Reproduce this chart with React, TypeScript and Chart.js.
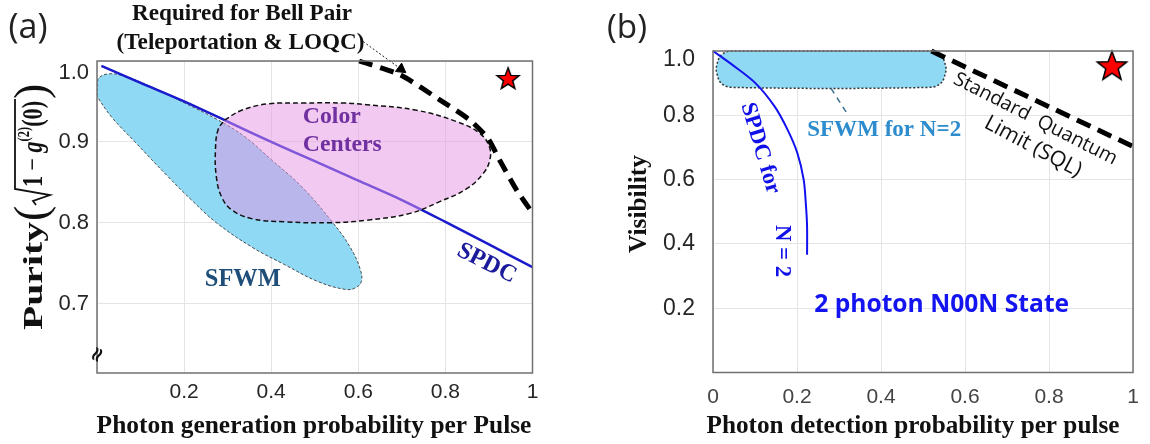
import React, { useEffect, useRef } from 'react';
import { Chart, registerables } from 'chart.js';

Chart.register(...registerables);

type Pt = [number, number];

/* ---------------- Panel (a): purity vs photon generation probability ---------------- */
const aXTicks = [0, 0.2, 0.4, 0.6, 0.8, 1];
const aYTicks = [0.7, 0.8, 0.9, 1.0];
const aYMin = 0.614;
const aYMax = 1.0;

const aSpdcCurve: Pt[] = [
  [0.01, 0.994], [0.1, 0.973], [0.2, 0.95], [0.3, 0.925], [0.4, 0.9],
  [0.5, 0.876], [0.6, 0.852], [0.7, 0.828], [0.8, 0.801], [0.9, 0.773], [1.0, 0.745],
];
const aBellPairLimit: Pt[] = [
  [0.602, 1.0], [0.696, 0.983], [0.787, 0.952], [0.856, 0.927],
  [0.898, 0.904], [0.925, 0.877], [0.964, 0.84], [1.0, 0.812],
];
const aSfwmRegion: Pt[] = [
  [0.0, 0.956], [0.002, 0.977], [0.025, 0.984], [0.064, 0.981], [0.125, 0.968],
  [0.2015, 0.948], [0.278, 0.927], [0.34, 0.906], [0.401, 0.8775], [0.47, 0.8445],
  [0.54, 0.801], [0.581, 0.77], [0.604, 0.743], [0.607, 0.727], [0.592, 0.719],
  [0.569, 0.7175], [0.508, 0.727], [0.431, 0.748], [0.355, 0.77], [0.274, 0.8],
  [0.217, 0.828], [0.163, 0.857], [0.087, 0.9], [0.033, 0.931], [0.0, 0.956],
];
const aColorCentersRegion: Pt[] = [
  [0.293, 0.927], [0.332, 0.939], [0.393, 0.947], [0.47, 0.948], [0.569, 0.948],
  [0.619, 0.946], [0.734, 0.939], [0.826, 0.925], [0.879, 0.9105], [0.901, 0.894],
  [0.902, 0.8775], [0.887, 0.861], [0.849, 0.842], [0.787, 0.826], [0.719, 0.8115],
  [0.619, 0.803], [0.539, 0.8], [0.431, 0.801], [0.355, 0.805], [0.309, 0.816],
  [0.286, 0.832], [0.274, 0.857], [0.272, 0.89], [0.278, 0.915], [0.293, 0.927],
];
const aBellArrow: Pt[] = [[0.611, 1.024], [0.698, 0.99]];
const aIdealPoint: Pt[] = [[0.944, 0.979]];

const aPanelLabel = '(a)';
const aNoteLines = ['Required for Bell Pair', '(Teleportation & LOQC)'];
const aXTitle = 'Photon generation probability per Pulse';
const aYTitleWord = 'Purity';
const aColorLabel = ['Color', 'Centers'];
const aSfwmLabel = 'SFWM';
const aSpdcLabel = 'SPDC';

/* ---------------- Panel (b): visibility vs detection probability ---------------- */
const bXTicks = [0, 0.2, 0.4, 0.6, 0.8, 1];
const bYTicks = [0.2, 0.4, 0.6, 0.8, 1.0];

const bSpdcCurve: Pt[] = [
  [0.0, 1.0], [0.047, 0.956], [0.101, 0.9], [0.147, 0.827], [0.178, 0.754],
  [0.201, 0.682], [0.216, 0.599], [0.2215, 0.516], [0.224, 0.453], [0.224, 0.366],
];
const bSqlLine: Pt[] = [[0.52, 1.0], [1.0, 0.703]];
const bSfwmRegion: Pt[] = [
  [0.28, 1.0], [0.519, 1.0], [0.5435, 0.986], [0.554, 0.953], [0.554, 0.934],
  [0.5435, 0.901], [0.519, 0.887], [0.043, 0.887], [0.0185, 0.901], [0.0085, 0.934],
  [0.0085, 0.953], [0.0185, 0.986], [0.043, 1.0], [0.28, 1.0],
];
const bSfwmLeader: Pt[] = [[0.281, 0.884], [0.322, 0.8]];
const bIdealPoint: Pt[] = [[0.95, 0.956]];

const bPanelLabel = '(b)';
const bXTitle = 'Photon detection probability per pulse';
const bYTitle = 'Visibility';
const bSfwmLabel = 'SFWM for N=2';
const bSpdcLabel = ['SPDC for', 'N = 2'];
const bNoonLabel = '2 photon N00N State';
const bSqlLabel = ['Standard  Quantum', 'Limit (SQL)'];

/* ---------------- styles ---------------- */
const SERIF = '"Liberation Serif", "Times New Roman", serif';
const SANS = '"Liberation Sans", Arial, sans-serif';
const NARROW = '"Liberation Sans Narrow", "Arial Narrow", "Liberation Sans", sans-serif';
const OPEN = '"Open Sans", sans-serif';
const GRID = '#e4e4e4';
const FRAME = '#707070';
const CYAN = 'rgb(143,217,244)';

const toXY = (pts: Pt[]) => pts.map(([x, y]) => ({ x, y }));

function makeStar(size: number): HTMLCanvasElement {
  const c = document.createElement('canvas');
  c.width = size;
  c.height = size;
  const g = c.getContext('2d')!;
  const cx = size / 2;
  const cy = size / 2 + size * 0.05;
  const R = size / 2 - 1.5;
  const r = R * 0.42;
  g.beginPath();
  for (let i = 0; i < 10; i++) {
    const ang = -Math.PI / 2 + (i * Math.PI) / 5;
    const rr = i % 2 === 0 ? R : r;
    const px = cx + rr * Math.cos(ang);
    const py = cy + rr * Math.sin(ang);
    if (i === 0) g.moveTo(px, py);
    else g.lineTo(px, py);
  }
  g.closePath();
  g.fillStyle = '#ff0000';
  g.fill();
  g.lineWidth = 1.5;
  g.strokeStyle = '#000';
  g.stroke();
  return c;
}

function fitFont(ctx: CanvasRenderingContext2D, text: string, weight: string, family: string, targetW: number) {
  ctx.font = `${weight} 20px ${family}`;
  const w = ctx.measureText(text).width;
  const size = (20 * targetW) / w;
  return `${weight} ${size.toFixed(2)}px ${family}`;
}

function drawText(
  ctx: CanvasRenderingContext2D, text: string, x: number, y: number, font: string,
  color: string, rot = 0, align: CanvasTextAlign = 'center',
) {
  ctx.save();
  ctx.translate(x, y);
  if (rot) ctx.rotate((rot * Math.PI) / 180);
  ctx.font = font;
  ctx.fillStyle = color;
  ctx.textAlign = align;
  ctx.textBaseline = 'middle';
  ctx.fillText(text, 0, 0);
  ctx.restore();
}

function drawFrame(chart: any) {
  const { left, right, top, bottom } = chart.chartArea;
  const ctx = chart.ctx as CanvasRenderingContext2D;
  ctx.save();
  ctx.strokeStyle = FRAME;
  ctx.lineWidth = 1.5;
  ctx.strokeRect(left, top, right - left, bottom - top);
  ctx.restore();
}

function drawPurityTitle(ctx: CanvasRenderingContext2D) {
  ctx.save();
  ctx.translate(42, 330);
  ctx.rotate(-Math.PI / 2);
  ctx.fillStyle = '#111';
  ctx.strokeStyle = '#111';
  ctx.textAlign = 'left';
  ctx.textBaseline = 'alphabetic';
  ctx.font = `bold 28px ${SERIF}`;
  const wP = ctx.measureText(aYTitleWord).width;
  ctx.save();
  ctx.scale(108 / wP, 1);
  ctx.fillText(aYTitleWord, 0, 0);
  ctx.restore();
  ctx.font = `46px ${SERIF}`;
  ctx.fillText('(', 109, 4);
  ctx.lineWidth = 1.8;
  ctx.beginPath();
  ctx.moveTo(125, -6);
  ctx.lineTo(129, -9);
  ctx.lineTo(135, 8);
  ctx.lineTo(141, -27);
  ctx.lineTo(231, -27);
  ctx.stroke();
  const parts = [
    { t: '1', f: `bold 30px ${SERIF}`, dy: 0 },
    { t: ' \u2212 ', f: `30px ${SERIF}`, dy: 0 },
    { t: 'g', f: `bold italic 30px ${SERIF}`, dy: 0 },
    { t: '(2)', f: `bold 17px ${SERIF}`, dy: -13 },
    { t: '(0)', f: `bold 30px ${SERIF}`, dy: 0 },
  ];
  let total = 0;
  for (const p of parts) {
    ctx.font = p.f;
    total += ctx.measureText(p.t).width;
  }
  ctx.save();
  ctx.translate(143, 0);
  ctx.scale(86 / total, 1);
  let u = 0;
  for (const p of parts) {
    ctx.font = p.f;
    ctx.fillText(p.t, u, p.dy);
    u += ctx.measureText(p.t).width;
  }
  ctx.restore();
  ctx.font = `46px ${SERIF}`;
  ctx.fillText(')', 231, 4);
  ctx.restore();
}

function xScale(ticks: number[], font: any, color: string, padding: number, height: number, fmt: (v: number) => string) {
  return {
    type: 'linear', position: 'bottom', min: 0, max: 1, bounds: 'data',
    afterBuildTicks: (s: any) => { s.ticks = ticks.map((v) => ({ value: v })); },
    afterFit: (s: any) => { s.height = height; s.paddingLeft = 0; s.paddingRight = 0; },
    grid: { color: GRID, lineWidth: 1, drawTicks: false },
    border: { display: false },
    ticks: { font, color, padding, maxRotation: 0, minRotation: 0, autoSkip: false, callback: (v: any) => fmt(Number(v)) },
  };
}

function yScale(ticks: number[], min: number, max: number, size: number, topLH: number, padding: number, width: number) {
  return {
    type: 'linear', position: 'left', min, max, bounds: 'data',
    afterBuildTicks: (s: any) => { s.ticks = ticks.map((v) => ({ value: v })); },
    afterFit: (s: any) => { s.width = width; s.paddingTop = 0; s.paddingBottom = 0; },
    grid: { color: GRID, lineWidth: 1, drawTicks: false },
    border: { display: false },
    ticks: {
      padding, color: '#262626', autoSkip: false,
      font: (c: any) => ({ family: SANS, size, lineHeight: c.tick && c.tick.value === 1 ? topLH : 1.2 }),
      callback: (v: any) => (Number(v) === 1 ? ['', '1.0'] : Number(v).toFixed(1)),
    },
  };
}

const baseOptions = {
  responsive: false,
  animation: false,
  devicePixelRatio: 1,
  events: [] as any[],
  plugins: { legend: { display: false }, tooltip: { enabled: false } },
};

function configA(star: HTMLCanvasElement): any {
  const plugin = {
    id: 'annotA',
    afterDatasetsDraw(chart: any) { drawFrame(chart); },
    afterDraw(chart: any) {
      const ctx = chart.ctx as CanvasRenderingContext2D;
      const X = (v: number) => chart.scales.x.getPixelForValue(v);
      const Y = (v: number) => chart.scales.y.getPixelForValue(v);
      drawText(ctx, aPanelLabel, 28, 28, fitFont(ctx, aPanelLabel, 'normal', OPEN, 39), '#222');
      drawText(ctx, aNoteLines[0], 242, 14, fitFont(ctx, aNoteLines[0], 'bold', SERIF, 220), '#111');
      drawText(ctx, aNoteLines[1], 240.5, 43, fitFont(ctx, aNoteLines[1], 'bold', SERIF, 248), '#111');
      drawText(ctx, aXTitle, 314, 426, fitFont(ctx, aXTitle, 'bold', SERIF, 435), '#111');
      drawPurityTitle(ctx);
      drawText(ctx, '\u2248', 98, 355, `bold 20px "DejaVu Sans", sans-serif`, '#111', -65);
      const ccFont = fitFont(ctx, aColorLabel[1], 'bold', SERIF, 79);
      drawText(ctx, aColorLabel[0], X(0.4727), Y(0.9307), ccFont, '#7030a0', 0, 'left');
      drawText(ctx, aColorLabel[1], X(0.4727), Y(0.896), ccFont, '#7030a0', 0, 'left');
      drawText(ctx, aSfwmLabel, X(0.3348), Y(0.7296), fitFont(ctx, aSfwmLabel, 'bold', SERIF, 76), '#1f4e79');
      drawText(ctx, aSpdcLabel, X(0.8948), Y(0.7496), fitFont(ctx, aSpdcLabel, 'bold', SERIF, 63), '#1a1a9a', 27);
    },
  };
  return {
    type: 'scatter',
    data: {
      datasets: [
        { data: toXY(aIdealPoint), showLine: false, pointStyle: star, pointRadius: 12, clip: false },
        {
          data: toXY(aBellArrow), showLine: true, borderColor: '#222', borderWidth: 1, borderDash: [2, 2],
          pointStyle: 'triangle', pointRadius: [0, 6], pointRotation: 126,
          pointBackgroundColor: '#000', pointBorderColor: '#000', pointBorderWidth: 1, clip: false, tension: 0,
        },
        {
          data: toXY(aBellPairLimit), showLine: true, borderColor: '#000', borderWidth: 5,
          borderDash: [14, 8], pointRadius: 0, tension: 0.2, clip: 4,
        },
        {
          data: toXY(aColorCentersRegion), showLine: true, fill: 'shape',
          backgroundColor: 'rgba(228,148,228,0.5)', borderColor: '#111', borderWidth: 1.5,
          borderDash: [5, 3], pointRadius: 0, tension: 0.4,
        },
        { data: toXY(aSpdcCurve), showLine: true, borderColor: '#1a1acd', borderWidth: 2.5, pointRadius: 0, tension: 0.3 },
        {
          data: toXY(aSfwmRegion), showLine: true, fill: 'shape', backgroundColor: CYAN,
          borderColor: '#4d4d4d', borderWidth: 1, borderDash: [3, 2], pointRadius: 0, tension: 0.4,
        },
      ],
    },
    options: {
      ...baseOptions,
      layout: { padding: { left: 0, top: 61, right: 42.5, bottom: 0 } },
      scales: {
        x: xScale(aXTicks, { family: SANS, size: 21 }, '#262626', 6.5, 71,
          (v) => (v === 0 ? '' : v === 1 ? '1' : v.toFixed(1))),
        y: yScale(aYTicks, aYMin, aYMax, 22, 1.09, 8, 97),
      },
    },
    plugins: [plugin],
  };
}

function configB(star: HTMLCanvasElement): any {
  const plugin = {
    id: 'annotB',
    afterDatasetsDraw(chart: any) { drawFrame(chart); },
    afterDraw(chart: any) {
      const ctx = chart.ctx as CanvasRenderingContext2D;
      const X = (v: number) => chart.scales.x.getPixelForValue(v);
      const Y = (v: number) => chart.scales.y.getPixelForValue(v);
      drawText(ctx, bPanelLabel, 52, 29, fitFont(ctx, bPanelLabel, 'normal', OPEN, 40), '#222');
      drawText(ctx, bXTitle, 338, 426, fitFont(ctx, bXTitle, 'bold', SERIF, 413), '#111');
      drawText(ctx, bYTitle, 64, 204, fitFont(ctx, bYTitle, 'bold', SERIF, 98), '#111', -90);
      drawText(ctx, bSfwmLabel, X(0.4076), Y(0.7543), fitFont(ctx, bSfwmLabel, 'bold', SERIF, 154), '#2d8ccd');
      drawText(ctx, bSpdcLabel[0], X(0.1123), Y(0.6974), fitFont(ctx, bSpdcLabel[0], 'bold', SERIF, 94), '#1010e8', 73.5);
      drawText(ctx, bSpdcLabel[1], X(0.1638), Y(0.3779), fitFont(ctx, bSpdcLabel[1], 'bold', SERIF, 52), '#1010e8', 90);
      drawText(ctx, bNoonLabel, X(0.5444), Y(0.21), fitFont(ctx, bNoonLabel, 'bold', OPEN, 255), '#1414f0');
      drawText(ctx, bSqlLabel[0], X(0.7675), Y(0.7885), fitFont(ctx, bSqlLabel[0], 'normal', OPEN, 181), '#111', 27);
      drawText(ctx, bSqlLabel[1], X(0.7619), Y(0.7023), fitFont(ctx, bSqlLabel[1], 'normal', OPEN, 107), '#111', 28);
    },
  };
  return {
    type: 'scatter',
    data: {
      datasets: [
        { data: toXY(bIdealPoint), showLine: false, pointStyle: star, pointRadius: 16, clip: false },
        {
          data: toXY(bSqlLine), showLine: true, borderColor: '#000', borderWidth: 5,
          borderDash: [15, 8], pointRadius: 0, tension: 0, clip: 4,
        },
        { data: toXY(bSpdcCurve), showLine: true, borderColor: '#1212f0', borderWidth: 2, pointRadius: 0, tension: 0.3, clip: 3 },
        {
          data: toXY(bSfwmLeader), showLine: true, borderColor: '#3a6f8f', borderWidth: 1.5,
          borderDash: [6, 5], pointRadius: 0, tension: 0,
        },
        {
          data: toXY(bSfwmRegion), showLine: true, fill: 'shape', backgroundColor: CYAN,
          borderColor: '#333', borderWidth: 1.5, borderDash: [2, 2], pointRadius: 0, tension: 0.35, clip: 3,
        },
      ],
    },
    options: {
      ...baseOptions,
      layout: { padding: { left: 0, top: 51, right: 3.3, bottom: 0 } },
      scales: {
        x: xScale(bXTicks, { family: NARROW, size: 21 }, '#444', 12, 71.5,
          (v) => (v === 0 ? '0' : v === 1 ? '1' : v.toFixed(1))),
        y: yScale(bYTicks, 0, 1, 23, 0.74, 18, 138),
      },
    },
    plugins: [plugin],
  };
}

export default function App() {
  const refA = useRef<HTMLCanvasElement>(null);
  const refB = useRef<HTMLCanvasElement>(null);
  useEffect(() => {
    const ca = new Chart(refA.current!, configA(makeStar(26)));
    const cb = new Chart(refB.current!, configB(makeStar(34)));
    return () => {
      ca.destroy();
      cb.destroy();
    };
  }, []);
  return (
    <div style={{ position: 'fixed', left: 0, top: 0, width: 1150, height: 444, background: '#fff', overflow: 'hidden' }}>
      <canvas ref={refA} width={575} height={444} style={{ position: 'absolute', left: 0, top: 0, width: 575, height: 444 }} />
      <canvas ref={refB} width={575} height={444} style={{ position: 'absolute', left: 575, top: 0, width: 575, height: 444 }} />
    </div>
  );
}
